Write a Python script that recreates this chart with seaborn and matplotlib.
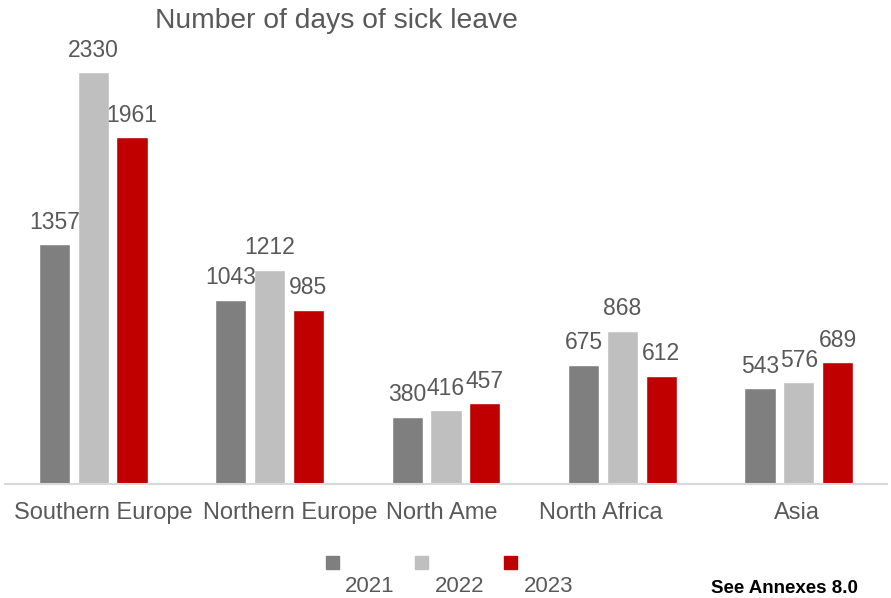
import matplotlib
matplotlib.use("Agg")
import matplotlib.pyplot as plt
from matplotlib.patches import Rectangle
from matplotlib.transforms import ScaledTranslation
import seaborn as sns
import pandas as pd

regions = ["Southern Europe", "Northern Europe", "North Ame", "North Africa", "Asia"]
years = ["2021", "2022", "2023"]
days_2021 = [1357, 1043, 380, 675, 543]
days_2022 = [2330, 1212, 416, 868, 576]
days_2023 = [1961, 985, 457, 612, 689]
colors = ["#7f7f7f", "#bfbfbf", "#c00000"]
text_color = "#595959"

sns.set_theme(style="white")
plt.rcParams["font.family"] = ["Liberation Sans", "DejaVu Sans"]

df = pd.DataFrame({
    "region": regions * 3,
    "year": [y for y in years for _ in regions],
    "days": days_2021 + days_2022 + days_2023,
})

W, H = 891, 598
fig = plt.figure(figsize=(W / 100, H / 100), dpi=100)
ax = fig.add_axes([5 / W, (H - 484) / H, 882 / W, 442 / H])

sns.barplot(data=df, x="region", y="days", hue="year", hue_order=years,
            order=regions, palette=colors, width=0.66, gap=0.2,
            saturation=1, errorbar=None, legend=False, ax=ax)

ax.set_ylim(0, 2500)
ax.set_xlim(-0.5, len(regions) - 0.5)
ax.set_xlabel("")
ax.set_ylabel("")
ax.set_yticks([])
for side in ["left", "right", "top"]:
    ax.spines[side].set_visible(False)
ax.spines["bottom"].set_color("#d9d9d9")
ax.spines["bottom"].set_linewidth(1.5)
ax.tick_params(axis="x", length=0, pad=13, labelsize=17, labelcolor=text_color)

# nudge the crowded category labels sideways (pixels)
label_shift = [10, 21, -4, -22, -2]
for lbl, dx in zip(ax.get_xticklabels(), label_shift):
    lbl.set_transform(lbl.get_transform() + ScaledTranslation(dx / 100, 0, fig.dpi_scale_trans))

for cont in ax.containers:
    ax.bar_label(cont, labels=[f"{int(v)}" for v in cont.datavalues],
                 padding=7.5, fontsize=16.5, color=text_color)

fig.text(155 / W, 1 - 21 / H, "Number of days of sick leave",
         fontsize=20.3, color=text_color, ha="left", va="center")

# legend: square markers with the year written below each
marker_x = [326, 415, 504]
label_x = [370, 460, 549]
for mx, lx, c, y in zip(marker_x, label_x, colors, years):
    fig.patches.append(Rectangle((mx / W, 1 - 569 / H), 13 / W, 13 / H,
                                 transform=fig.transFigure, color=c))
    fig.text(lx / W, 1 - 587 / H, y, fontsize=16, color=text_color,
             ha="center", va="center")

fig.text(711 / W, 1 / H, "See Annexes 8.0", fontsize=13.5,
         fontweight="bold", color="black", ha="left", va="bottom")

fig.savefig("out.png", dpi=100)
